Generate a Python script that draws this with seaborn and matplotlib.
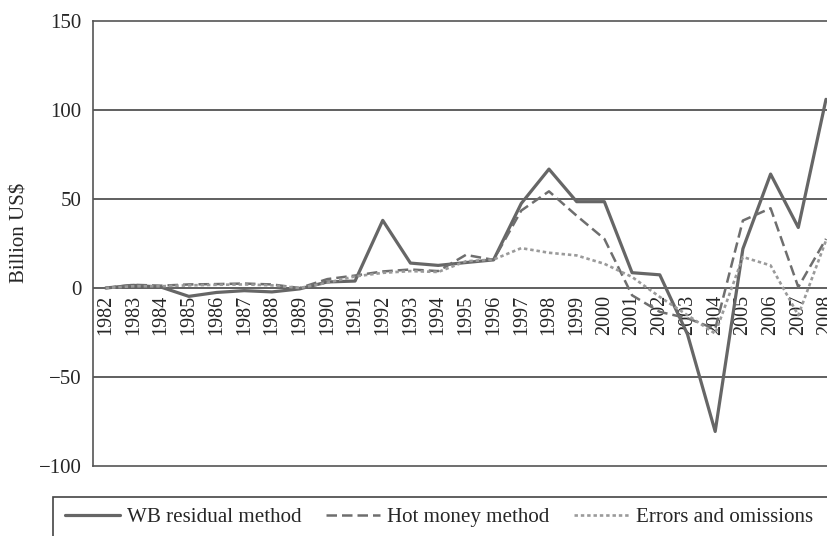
import matplotlib
matplotlib.use("Agg")
import matplotlib.pyplot as plt
from matplotlib.patches import Rectangle
import pandas as pd
import seaborn as sns

# ── Data (billion US$) ────────────────────────────────────────────────────────
years = list(range(1982, 2009))

wb_residual = [0, 1.5, 0.5, -4.7, -2.5, -1.5, -2.2, -0.5, 3.4, 3.9,
               38, 14, 12.7, 14.3, 15.8, 47.5, 66.8, 48.5, 48.5, 8.6,
               7.4, -26, -80.6, 22, 64, 34, 106]
hot_money = [0, 1.8, 1.3, 2, 2.2, 2.5, 2, 0, 5, 7,
             9.3, 10.4, 9.5, 18.6, 15.8, 43.5, 54.3, 40.6, 27.6, -4.1,
             -13.4, -17, -23, 37.9, 44.8, 0.5, 27.6]
errors_omissions = [0, 1, 1, 1.5, 1.8, 2, 1.5, 0, 3, 6.5,
                    8.5, 9.5, 9, 15, 16, 22.4, 19.8, 18.3, 13.6, 6.2,
                    -5, -15.3, -25.6, 17.4, 12.7, -15.3, 26.7]

series_names = ["WB residual method", "Hot money method", "Errors and omissions"]
y_ticks = [-100, -50, 0, 50, 100, 150]

# ── Long-form table for seaborn ───────────────────────────────────────────────
df = pd.DataFrame({
    "year": years * 3,
    "value": wb_residual + hot_money + errors_omissions,
    "series": sum([[n] * len(years) for n in series_names], []),
})

sns.set_style("white")
plt.rcParams["font.family"] = ["Liberation Serif", "DejaVu Serif"]

W, H = 827, 536
fig = plt.figure(figsize=(W / 100, H / 100), dpi=100)
ax = fig.add_axes([92.7 / W, 1 - 466 / H, 1 - 92.7 / W, (466 - 21) / H])

palette = {
    "WB residual method": "#666666",
    "Hot money method": "#6e6e6e",
    "Errors and omissions": "#9a9a9a",
}
dashes = {
    "WB residual method": "",
    "Hot money method": (4.2, 2.0),
    "Errors and omissions": (1.3, 1.1),
}
sns.lineplot(data=df, x="year", y="value", hue="series", style="series",
             palette=palette, dashes=dashes, hue_order=series_names,
             style_order=series_names, ax=ax, legend=False)
for line, lw in zip(ax.get_lines(), [2.3, 1.8, 1.9]):
    line.set_linewidth(lw)

ax.set_xlim(1982 - 13 / 27.7, 2008 + 1 / 27.7)
ax.set_ylim(-100, 150)
ax.set_yticks(y_ticks)
ax.set_yticklabels([str(t).replace("-", "\u2212") for t in y_ticks])
ax.tick_params(axis="y", length=0, pad=8, labelsize=15)
ax.set_xticks([])
ax.set_xlabel("")

# horizontal gridlines
for t in y_ticks[1:-1]:
    ax.axhline(t, color="#444444", lw=1.2, zorder=0)

for side in ["left", "top", "bottom"]:
    ax.spines[side].set_color("#555555")
    ax.spines[side].set_linewidth(1.2)
ax.spines["right"].set_visible(False)

# year labels sit just below the zero line (2008 runs off the edge, as in the source)
sec = ax.secondary_xaxis(100 / 250)
sec.set_xticks(years)
sec.set_xticklabels([str(y) for y in years], rotation=90)
sec.tick_params(length=0, pad=5, labelsize=14.5)
sec.spines["bottom"].set_visible(False)

ax.set_ylabel("Billion US$", fontsize=15)
ax.yaxis.set_label_coords((30 - 92.7) / 734, (466 - 233) / 445)

# legend with a box that runs off the bottom/right edges
fig.patches.append(Rectangle((53 / W, -0.2), 1.0, 0.2 + 1 - 497 / H,
                             transform=fig.transFigure, fill=False,
                             edgecolor="#444444", lw=1.2))
handles = ax.get_lines()[:3]
fig.legend(handles, series_names, loc="center left",
           bbox_to_anchor=(65 / W, 1 - 517 / H), ncol=3, frameon=False,
           fontsize=15.1, handlelength=2.6, handletextpad=0.35,
           columnspacing=1.15, borderpad=0, borderaxespad=0)

fig.savefig("out.png", dpi=100)
